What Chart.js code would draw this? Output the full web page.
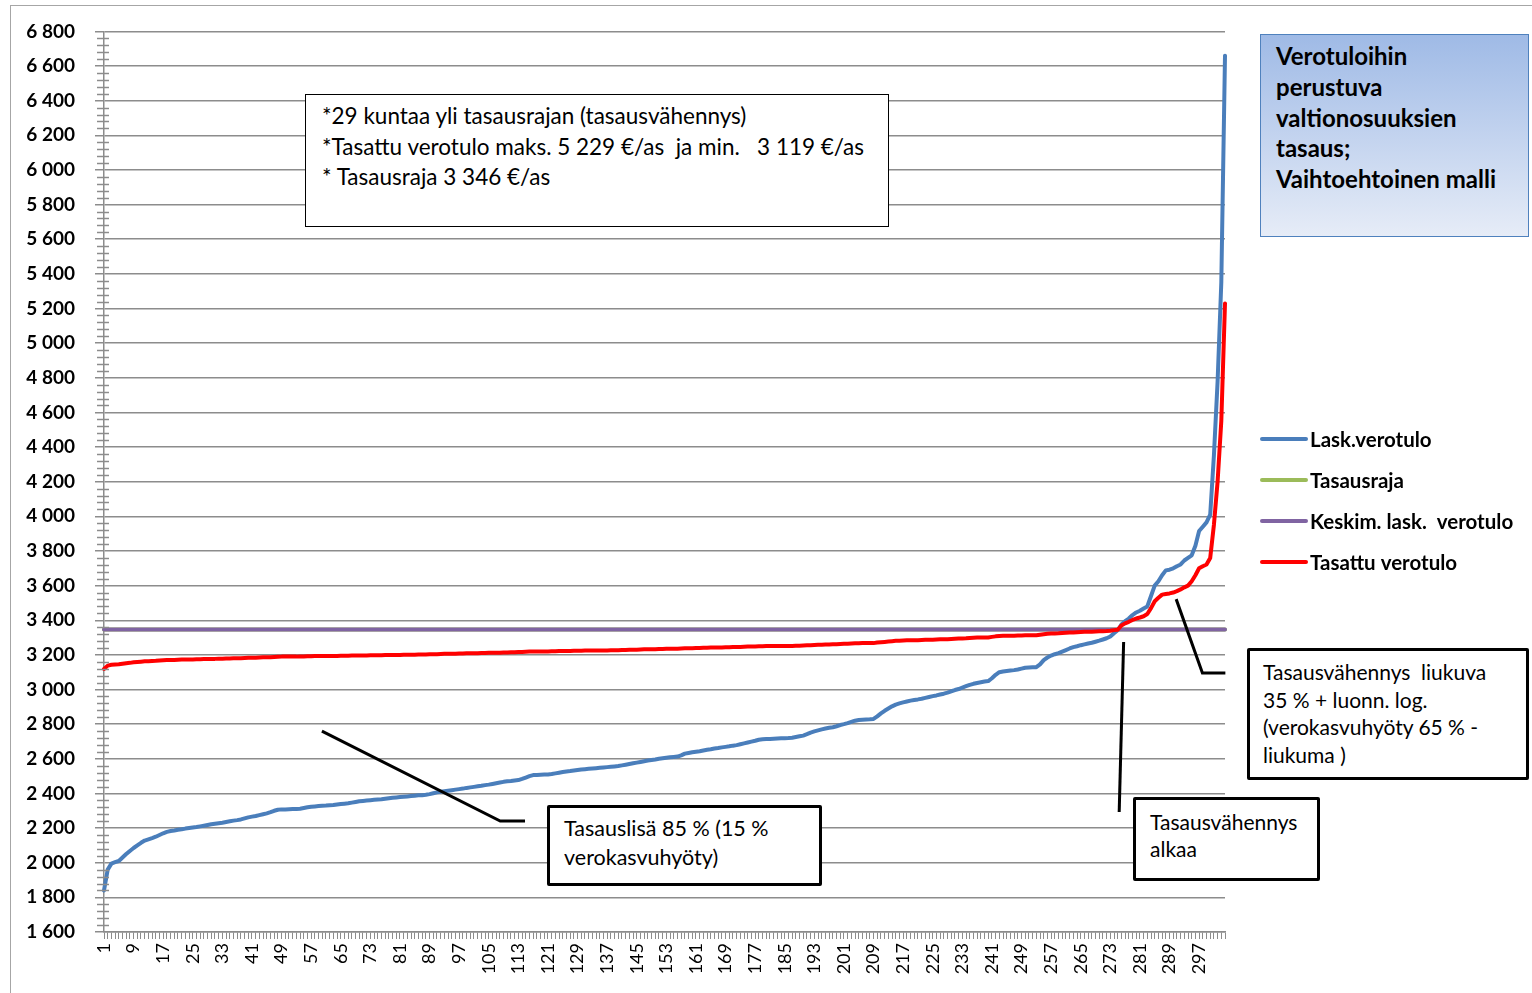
<!DOCTYPE html>
<html lang="fi">
<head>
<meta charset="utf-8">
<title>Verotuloihin perustuva valtionosuuksien tasaus</title>
<script src="https://cdn.jsdelivr.net/npm/chart.js@4.4.1/dist/chart.umd.min.js"></script>
<style>
  html, body { margin: 0; padding: 0; background: #fff; }
  #wrap { position: relative; width: 1532px; height: 993px; overflow: hidden;
          font-family: Lato, "Open Sans", sans-serif; color: #000; }
  #frame { position: absolute; left: 10px; top: 5px; width: 1540px; height: 1000px;
           border-left: 1.5px solid #a6a6a6; border-top: 1.5px solid #a6a6a6; }
  #chart { position: absolute; left: 0; top: 0; }
  .box { position: absolute; box-sizing: border-box; background: #fff; white-space: pre; }
  #info { left: 305px; top: 94px; width: 584px; height: 133px; border: 1.5px solid #000;
          padding: 6px 0 0 16px; font-size: 22.5px; line-height: 30.5px; }
  #title { left: 1260px; top: 34px; width: 269px; height: 203px; border: 1.5px solid #4f81bd;
           background: linear-gradient(#9fbae6, #e6ecf7); padding: 6px 0 0 15px;
           font-size: 24px; font-weight: bold; line-height: 30.8px; }
  .note { border: 3px solid #000; border-radius: 2px; }
  #noteA { left: 547px; top: 805px; width: 275px; height: 81px; padding: 6px 0 0 14px;
           font-size: 21.5px; line-height: 29px; }
  #noteB { left: 1247px; top: 648px; width: 282px; height: 132px; padding: 7px 0 0 13px;
           font-size: 21px; line-height: 27.5px; }
  #noteC { left: 1133px; top: 797px; width: 187px; height: 84px; padding: 8px 0 0 14px;
           font-size: 21px; line-height: 27px; }
</style>
</head>
<body>
<div id="wrap">
  <div id="frame"></div>
  <canvas id="chart" width="1532" height="993"></canvas>
  <div class="box" id="info">*29 kuntaa yli tasausrajan (tasausvähennys)
*Tasattu verotulo maks. 5 229 €/as  ja min.   3 119 €/as
* Tasausraja 3 346 €/as</div>
  <div class="box" id="title">Verotuloihin
perustuva
valtionosuuksien
tasaus;
Vaihtoehtoinen malli</div>
  <div class="box note" id="noteA">Tasauslisä 85 % (15 %
verokasvuhyöty)</div>
  <div class="box note" id="noteB">Tasausvähennys  liukuva
35 % + luonn. log.
(verokasvuhyöty 65 % -
liukuma )</div>
  <div class="box note" id="noteC">Tasausvähennys
alkaa</div>
</div>
<script>
// Kunnat järjestettynä laskennallisen verotulon mukaan (€/asukas)
const municipalityCount = 304;
const categories = Array.from({ length: municipalityCount }, (_, i) => String(i + 1));
const labelEvery = 8;

// Laskennallinen verotulo
const laskVerotulo = [
  1840, 1960, 1995, 2003, 2010, 2030, 2050, 2068, 2085, 2100,
  2115, 2128, 2135, 2142, 2150, 2160, 2170, 2178, 2183, 2186,
  2190, 2193, 2197, 2200, 2203, 2206, 2210, 2214, 2218, 2222,
  2225, 2228, 2231, 2235, 2239, 2243, 2246, 2250, 2256, 2262,
  2266, 2270, 2275, 2280, 2285, 2292, 2300, 2306, 2308, 2308,
  2309, 2310, 2310, 2312, 2316, 2320, 2323, 2325, 2327, 2329,
  2330, 2332, 2333, 2336, 2339, 2341, 2343, 2347, 2351, 2355,
  2357, 2359, 2361, 2363, 2365, 2366, 2369, 2372, 2375, 2377,
  2379, 2381, 2383, 2385, 2387, 2389, 2390, 2392, 2396, 2401,
  2406, 2410, 2413, 2416, 2419, 2422, 2425, 2428, 2432, 2435,
  2438, 2441, 2444, 2448, 2451, 2455, 2459, 2463, 2467, 2470,
  2472, 2475, 2477, 2484, 2492, 2500, 2506, 2507, 2508, 2509,
  2510, 2512, 2516, 2520, 2524, 2527, 2529, 2532, 2535, 2538,
  2540, 2542, 2544, 2546, 2548, 2550, 2552, 2554, 2556, 2558,
  2562, 2566, 2570, 2574, 2578, 2582, 2586, 2590, 2593, 2596,
  2600, 2603, 2606, 2609, 2611, 2613, 2620, 2630, 2634, 2638,
  2641, 2644, 2648, 2652, 2655, 2659, 2662, 2666, 2669, 2672,
  2676, 2679, 2684, 2689, 2694, 2699, 2704, 2710, 2713, 2714,
  2715, 2716, 2717, 2718, 2719, 2720, 2722, 2726, 2730, 2734,
  2742, 2751, 2758, 2764, 2770, 2775, 2779, 2782, 2788, 2795,
  2800, 2806, 2813, 2820, 2824, 2826, 2827, 2828, 2830, 2845,
  2862, 2877, 2890, 2903, 2913, 2920, 2926, 2931, 2936, 2940,
  2943, 2947, 2952, 2957, 2962, 2966, 2971, 2976, 2982, 2990,
  2997, 3003, 3011, 3019, 3027, 3033, 3038, 3042, 3046, 3049,
  3065, 3085, 3100, 3104, 3107, 3110, 3112, 3116, 3121, 3126,
  3127, 3128, 3129, 3145, 3170, 3185, 3196, 3204, 3210, 3219,
  3228, 3237, 3245, 3250, 3256, 3261, 3266, 3270, 3276, 3282,
  3289, 3296, 3306, 3325, 3342, 3375, 3395, 3410, 3430, 3445,
  3455, 3468, 3480, 3540, 3600, 3625, 3660, 3688, 3692, 3700,
  3712, 3722, 3745, 3760, 3775, 3830, 3915, 3940, 3965, 4010,
  4350, 4780, 5350, 6660
];

// Tasattu verotulo
const tasattuVerotulo = [
  3119, 3138, 3143, 3145, 3146, 3149, 3152, 3154, 3157, 3159,
  3161, 3163, 3164, 3165, 3166, 3168, 3169, 3170, 3171, 3171,
  3172, 3173, 3173, 3174, 3174, 3175, 3175, 3176, 3176, 3177,
  3177, 3178, 3178, 3179, 3179, 3180, 3181, 3181, 3182, 3183,
  3184, 3184, 3185, 3186, 3186, 3187, 3188, 3189, 3190, 3190,
  3190, 3190, 3190, 3191, 3191, 3192, 3192, 3193, 3193, 3193,
  3193, 3194, 3194, 3194, 3195, 3195, 3195, 3196, 3196, 3197,
  3197, 3197, 3198, 3198, 3198, 3198, 3199, 3199, 3200, 3200,
  3200, 3201, 3201, 3201, 3201, 3202, 3202, 3202, 3203, 3204,
  3204, 3205, 3206, 3206, 3207, 3207, 3208, 3208, 3209, 3209,
  3210, 3210, 3211, 3211, 3212, 3212, 3213, 3213, 3214, 3214,
  3215, 3215, 3216, 3217, 3218, 3219, 3220, 3220, 3220, 3220,
  3220, 3221, 3221, 3222, 3222, 3223, 3223, 3224, 3224, 3224,
  3225, 3225, 3225, 3225, 3226, 3226, 3226, 3227, 3227, 3227,
  3228, 3228, 3229, 3230, 3230, 3231, 3232, 3232, 3233, 3233,
  3234, 3234, 3235, 3235, 3235, 3236, 3237, 3238, 3239, 3239,
  3240, 3240, 3241, 3241, 3242, 3242, 3243, 3243, 3244, 3244,
  3245, 3245, 3246, 3247, 3248, 3248, 3249, 3250, 3250, 3251,
  3251, 3251, 3251, 3251, 3251, 3252, 3252, 3253, 3253, 3254,
  3255, 3256, 3257, 3258, 3259, 3260, 3260, 3261, 3262, 3263,
  3264, 3265, 3266, 3267, 3267, 3268, 3268, 3268, 3268, 3271,
  3273, 3275, 3277, 3279, 3281, 3282, 3283, 3284, 3284, 3285,
  3285, 3286, 3287, 3287, 3288, 3289, 3290, 3290, 3291, 3292,
  3293, 3294, 3295, 3296, 3298, 3299, 3300, 3300, 3301, 3301,
  3304, 3307, 3309, 3310, 3310, 3311, 3311, 3312, 3312, 3313,
  3313, 3313, 3313, 3316, 3319, 3322, 3323, 3324, 3325, 3327,
  3328, 3329, 3330, 3331, 3332, 3333, 3333, 3334, 3335, 3336,
  3337, 3338, 3340, 3343, 3345, 3370, 3382, 3391, 3402, 3410,
  3416, 3423, 3436, 3470, 3510, 3530, 3548, 3552, 3555, 3560,
  3568, 3578, 3590, 3600, 3625, 3660, 3700, 3712, 3722, 3760,
  3950, 4200, 4550, 5229
];

// Vaakaviivat: tasausraja ja keskimääräinen laskennallinen verotulo
const tasausrajaValue = 3346;
const keskimLaskValue = 3346;
const tasausraja = new Array(municipalityCount).fill(tasausrajaValue);
const keskimLaskVerotulo = new Array(municipalityCount).fill(keskimLaskValue);

// Y-akselin jaotus
const yMin = 1600, yMax = 6800, yStep = 200, yMinorStep = 40;

// Selitelaatikoiden osoitinviivat akselien yksiköissä (kunta-indeksi, €/as)
const calloutPaths = [
  [[58.9, 2760], [107.1, 2241], [113.8, 2241]],
  [[289.8, 3522], [296.9, 3095], [303.1, 3095]],
  [[275.6, 3274], [274.4, 2293]]
];

const gridGray = '#8c8c8c';
const fontFamily = 'Lato, "Open Sans", sans-serif';

function fmtThousands(v) {
  if (v < 1000) return String(v);
  return Math.floor(v / 1000) + ' ' + String(v % 1000).padStart(3, '0');
}

const extrasPlugin = {
  id: 'extras',
  afterDatasetsDraw(chart) {
    const ctx = chart.ctx;
    const xs = chart.scales.x, ys = chart.scales.y;
    // osoitinviivat
    ctx.save();
    ctx.strokeStyle = '#000';
    ctx.lineWidth = 3;
    ctx.lineJoin = 'miter';
    calloutPaths.forEach(path => {
      ctx.beginPath();
      path.forEach(([i, v], k) => {
        const px = xs.getPixelForValue(i), py = ys.getPixelForValue(v);
        if (k === 0) ctx.moveTo(px, py); else ctx.lineTo(px, py);
      });
      ctx.stroke();
    });
    ctx.restore();
  },
  afterDraw(chart) {
    const ctx = chart.ctx;
    const ys = chart.scales.y;
    const axisX = chart.chartArea.left;
    // pienet jakoviivat y-akselilla
    ctx.save();
    ctx.strokeStyle = gridGray;
    ctx.lineWidth = 1.5;
    for (let v = yMin; v <= yMax; v += yMinorStep) {
      if (v % yStep === 0) continue;
      const py = Math.round(ys.getPixelForValue(v)) + 0.5;
      ctx.beginPath();
      ctx.moveTo(axisX - 7, py);
      ctx.lineTo(axisX + 5, py);
      ctx.stroke();
    }
    // selite
    const legendX = 1260, legendY = 439, legendGap = 41;
    ctx.font = 'bold 20.5px ' + fontFamily;
    ctx.textBaseline = 'middle';
    ctx.textAlign = 'left';
    chart.data.datasets.forEach((ds, i) => {
      const y = legendY + i * legendGap;
      ctx.strokeStyle = ds.borderColor;
      ctx.lineWidth = 4;
      ctx.lineCap = 'round';
      ctx.beginPath();
      ctx.moveTo(legendX + 2, y);
      ctx.lineTo(legendX + 46, y);
      ctx.stroke();
      ctx.fillStyle = '#000';
      ctx.fillText(ds.label, legendX + 50, y + 1);
    });
    ctx.restore();
  }
};

new Chart(document.getElementById('chart'), {
  type: 'line',
  data: {
    labels: categories,
    datasets: [
      { label: 'Lask.verotulo', data: laskVerotulo, borderColor: '#4a7ebb', order: 4 },
      { label: 'Tasausraja', data: tasausraja, borderColor: '#9bbb59', order: 3 },
      { label: 'Keskim. lask.  verotulo', data: keskimLaskVerotulo, borderColor: '#8064a2', order: 2 },
      { label: 'Tasattu verotulo', data: tasattuVerotulo, borderColor: '#ff0000', order: 1 }
    ]
  },
  options: {
    responsive: false,
    animation: false,
    devicePixelRatio: 1,
    layout: { padding: { left: 10, right: 307, top: 31, bottom: 0 } },
    elements: {
      point: { radius: 0, hoverRadius: 0 },
      line: { borderWidth: 4, tension: 0, borderCapStyle: 'round', borderJoinStyle: 'round', fill: false }
    },
    plugins: { legend: { display: false }, tooltip: { enabled: false }, title: { display: false } },
    events: [],
    scales: {
      x: {
        type: 'category',
        offset: false,
        grid: { display: true, drawOnChartArea: false, drawTicks: true, tickLength: 7, color: gridGray, lineWidth: 1 },
        border: { display: true, color: gridGray, width: 1.5 },
        ticks: {
          autoSkip: false, minRotation: 90, maxRotation: 90, padding: 4, color: '#000',
          font: { family: fontFamily, size: 18 },
          callback(value, index) { return index % labelEvery === 0 ? this.getLabelForValue(value) : ''; }
        },
        afterFit(scale) { scale.height = 61; scale.paddingLeft = 0; scale.paddingRight = 0; }
      },
      y: {
        type: 'linear',
        min: yMin, max: yMax,
        grid: { color: gridGray, lineWidth: 1.5, drawTicks: true, tickLength: 9, tickColor: gridGray },
        border: { display: true, color: gridGray, width: 1.5 },
        ticks: {
          stepSize: yStep, maxTicksLimit: 100, autoSkip: false, padding: 20, color: '#000',
          font: { family: fontFamily, size: 19, weight: 'bold' },
          callback: v => fmtThousands(v)
        },
        afterFit(scale) { scale.width = 94; }
      }
    }
  },
  plugins: [extrasPlugin]
});
</script>
</body>
</html>
